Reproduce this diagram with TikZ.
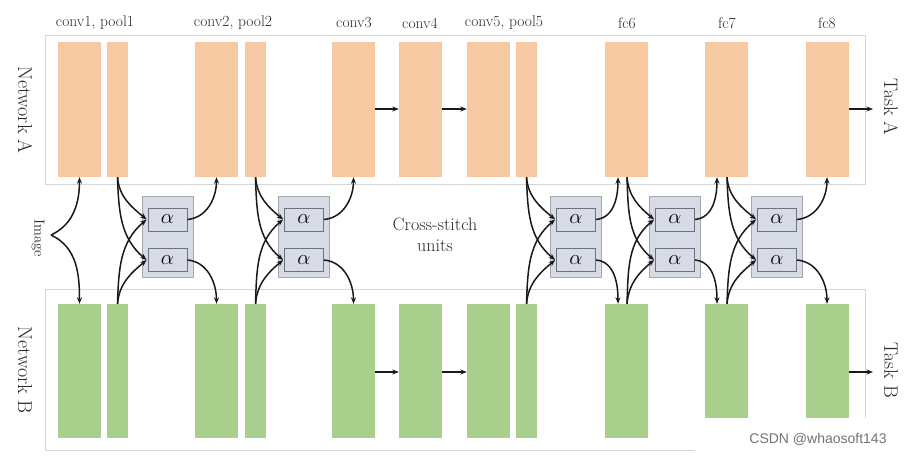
\documentclass[tikz,border=0pt]{standalone}
\usepackage{fontspec}
\usetikzlibrary{arrows.meta}
\definecolor{barA}{HTML}{F6C9A2}
\definecolor{barB}{HTML}{A8CF8C}
\definecolor{unitfill}{HTML}{D7DBE5}
\definecolor{unitdraw}{HTML}{A3A7B0}
\definecolor{alphadraw}{HTML}{6E727A}
\definecolor{framecol}{HTML}{D3D5D8}
\definecolor{txt}{HTML}{2A2A2A}
\newfontfamily\wmfont{Liberation Sans}
\tikzset{
  convbar/.style={draw=none, inner sep=0pt, minimum width=43pt},
  poolbar/.style={draw=none, inner sep=0pt, minimum width=21pt},
  rowA/.style={fill=barA, minimum height=135pt},
  rowB/.style={fill=barB, minimum height=134pt},
  netframe/.style={draw=framecol, line width=0.7pt, inner sep=0pt, minimum width=820pt},
  unitbox/.style={draw=unitdraw, fill=unitfill, line width=0.8pt, inner sep=0pt, minimum width=51pt, minimum height=81pt},
  alphabox/.style={draw=alphadraw, fill=unitfill, line width=0.8pt, inner sep=0pt, minimum width=39pt, minimum height=23pt, font=\fontsize{20}{22}\selectfont},
  lbl/.style={text=txt, font=\fontsize{15.5}{18}\selectfont},
  side/.style={text=txt, rotate=-90, font=\fontsize{20}{24}\selectfont},
  conn/.style={line width=1.5pt, black!90},
  arr/.style={conn, -{Stealth[length=6.5pt,width=5pt]}},
}
\begin{document}
\begin{tikzpicture}[x=1pt,y=1pt]
\useasboundingbox (0,0) rectangle (914,456);
% frames
\node[netframe, minimum height=149pt] (frA) at (455,346.5) {};
\node[netframe, minimum height=161pt] (frB) at (455,86.5) {};
% bars
\foreach \n/\x/\s in {c1/79.5/convbar, p1/117.5/poolbar, c2/216.5/convbar, p2/255.5/poolbar, c3/353.5/convbar, c4/420.5/convbar, c5/488.5/convbar, p5/526.5/poolbar, f6/626/convbar, f7/726/convbar, f8/827/convbar}{
  \node[\s, rowA] (a\n) at (\x,346.5) {};
  \node[\s, rowB] (b\n) at (\x,85) {};
}
% labels
\node[lbl] (l1) at (95,433) {conv1, pool1};
\node[lbl] (l2) at (233,433) {conv2, pool2};
\node[lbl] (l3) at (354,433) {conv3};
\node[lbl] (l4) at (420,433) {conv4};
\node[lbl] (l5) at (504,433) {conv5, pool5};
\node[lbl] (l6) at (627,433) {fc6};
\node[lbl] (l7) at (727,433) {fc7};
\node[lbl] (l8) at (827,433) {fc8};
\node[side] (netA) at (25,346) {Network A};
\node[side] (netB) at (25,86) {Network B};
\node[side, font=\fontsize{19.5}{23}\selectfont] (taskA) at (891,349) {Task A};
\node[side, font=\fontsize{19.5}{23}\selectfont] (taskB) at (891,86) {Task B};
\node[side, font=\fontsize{14.5}{17}\selectfont] (img) at (38,218) {Image};
\node[lbl, font=\fontsize{18}{21}\selectfont, align=center] (cs) at (435,221) {Cross-stitch\\units};
% cross-stitch units
\foreach \i/\x in {1/167.5, 2/304, 3/576, 4/675, 5/777}{
  \node[unitbox] (u\i) at (\x,219.5) {};
  \node[alphabox] (u\i t) at (\x,236.5) {$\alpha$};
  \node[alphabox] (u\i b) at (\x,196) {$\alpha$};
}
% image input
\coordinate (imgtip) at (51,221);
\draw[arr] (imgtip) to[out=25,in=-90] (ac1.south);
\draw[arr] (imgtip) to[out=-25,in=90] (bc1.north);
% sources and targets of units
\coordinate (s1t) at (ap1.south); \coordinate (s1b) at (bp1.north);
\coordinate (s2t) at (ap2.south); \coordinate (s2b) at (bp2.north);
\coordinate (s3t) at (ap5.south); \coordinate (s3b) at (bp5.north);
\coordinate (s4t) at ([xshift=1pt]af6.south); \coordinate (s4b) at ([xshift=1pt]bf6.north);
\coordinate (s5t) at ([xshift=1pt]af7.south); \coordinate (s5b) at ([xshift=1pt]bf7.north);
\coordinate (d1t) at (ac2.south); \coordinate (d1b) at (bc2.north);
\coordinate (d2t) at (ac3.south); \coordinate (d2b) at (bc3.north);
\coordinate (d3t) at ([xshift=-8pt]af6.south); \coordinate (d3b) at ([xshift=-8pt]bf6.north);
\coordinate (d4t) at ([xshift=-9pt]af7.south); \coordinate (d4b) at ([xshift=-9pt]bf7.north);
\coordinate (d5t) at (af8.south); \coordinate (d5b) at (bf8.north);
\foreach \i in {1,...,5}{
  \draw[arr] (s\i t) to[out=-85,in=140] ([xshift=-1pt]u\i t.west);
  \draw[arr] (s\i t) to[out=-88,in=140] ([xshift=-1pt]u\i b.west);
  \draw[arr] (s\i b) to[out=88,in=220] ([xshift=-1pt]u\i t.west);
  \draw[arr] (s\i b) to[out=85,in=220] ([xshift=-1pt]u\i b.west);
  \draw[arr] (u\i t.east) to[out=5,in=-90] (d\i t);
  \draw[arr] (u\i b.east) to[out=-5,in=90] (d\i b);
}
% horizontal arrows
\draw[arr] (ac3.east |- 0,347) -- (ac4.west |- 0,347);
\draw[arr] (ac4.east |- 0,347) -- (ac5.west |- 0,347);
\draw[arr] (bc3.east |- 0,84) -- (bc4.west |- 0,84);
\draw[arr] (bc4.east |- 0,84) -- (bc5.west |- 0,84);
\coordinate (outA) at (873,347);
\coordinate (outB) at (873,84);
\draw[arr] (af8.east |- outA) -- (outA);
\draw[arr] (bf8.east |- outB) -- (outB);
% watermark
\fill[white] (695,0) rectangle (914,38);
\node[text=black!55, font=\wmfont\fontsize{14}{16}\selectfont] (wm) at (818,17) {CSDN @whaosoft143};
\end{tikzpicture}
\end{document}
